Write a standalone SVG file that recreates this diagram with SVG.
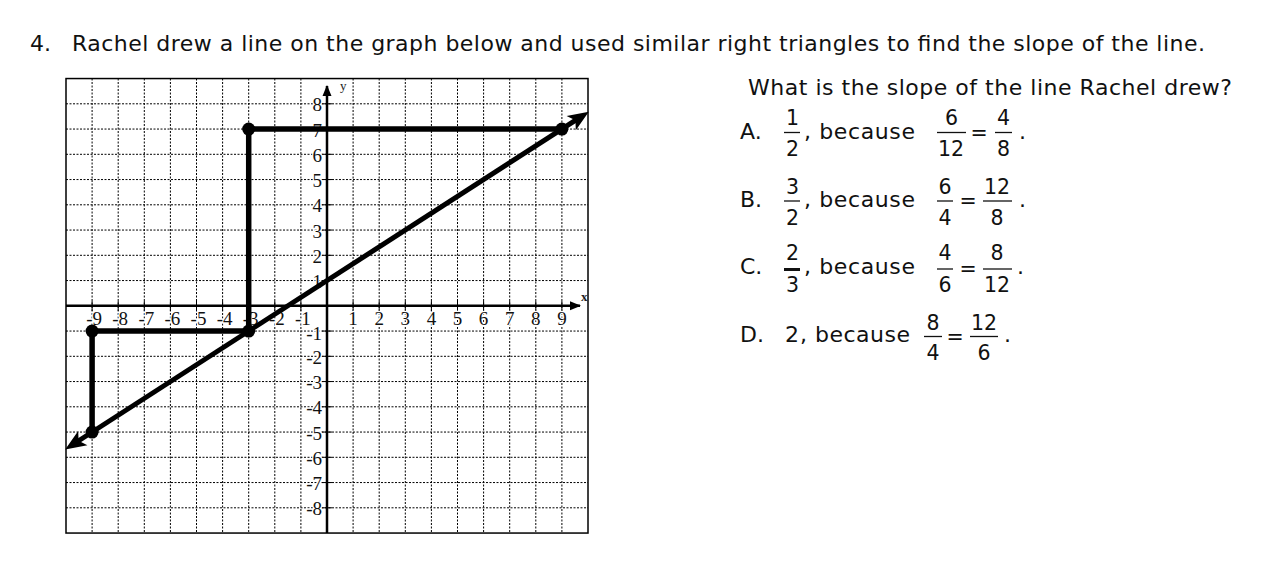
<svg xmlns="http://www.w3.org/2000/svg" width="1261" height="572" viewBox="0 0 1261 572">
<style>
.t{font-family:"DejaVu Sans","Liberation Sans",sans-serif;font-size:22px;fill:#111}
.f{font-family:"DejaVu Sans","Liberation Sans",sans-serif;font-size:20.5px;fill:#111;text-anchor:middle}
.bar{stroke:#111;stroke-width:1.3}
.g{stroke:#000;stroke-width:1;stroke-dasharray:2 1.5;fill:none}
.ax{stroke:#000;stroke-width:2.5;fill:none}
.lab{font-family:"Liberation Serif","Times New Roman",serif;font-size:19px;fill:#111;stroke:#fff;stroke-width:2.5;paint-order:stroke}
.yl{text-anchor:end}
.xl{text-anchor:middle}
.thick{stroke:#000;stroke-width:5.5;fill:none;stroke-linejoin:miter}
.dot{fill:#000}
</style>
<defs>
<marker id="barb" markerUnits="userSpaceOnUse" viewBox="-12 -9 24 18" markerWidth="24" markerHeight="18" refX="0" refY="0" orient="auto-start-reverse">
<path d="M11,0 L-10,-8.5 L-5,0 L-10,8.5 Z" fill="#000"/>
</marker>
<marker id="axarr" markerUnits="userSpaceOnUse" viewBox="-12 -6 14 12" markerWidth="14" markerHeight="12" refX="0" refY="0" orient="auto">
<path d="M1,0 L-10,-4.5 L-10,4.5 Z" fill="#000"/>
</marker>
</defs>

<g id="title">
<text class="t" x="30" y="51">4.</text>
<text class="t" x="72" y="51" textLength="1133" lengthAdjust="spacing">Rachel drew a line on the graph below and used similar right triangles to find the slope of the line.</text>
</g>

<g id="graph">
<rect x="66" y="78.55" width="522" height="454.5" fill="#fff" stroke="#000" stroke-width="1.5"/>
<g id="grid" class="g">
<path d="M92.1,78.5V533M118.2,78.5V533M144.3,78.5V533M170.4,78.5V533M196.5,78.5V533M222.6,78.5V533M248.7,78.5V533M274.8,78.5V533M300.9,78.5V533M353.1,78.5V533M379.2,78.5V533M405.3,78.5V533M431.4,78.5V533M457.5,78.5V533M483.6,78.5V533M509.7,78.5V533M535.8,78.5V533M561.9,78.5V533"/>
<path d="M66,103.8H588M66,129.05H588M66,154.3H588M66,179.55H588M66,204.8H588M66,230.05H588M66,255.3H588M66,280.55H588M66,331.05H588M66,356.3H588M66,381.55H588M66,406.8H588M66,432.05H588M66,457.3H588M66,482.55H588M66,507.8H588"/>
</g>
<g id="ticks" stroke="#000" stroke-width="1">
<path d="M322,103.8H332M322,129.05H332M322,154.3H332M322,179.55H332M322,204.8H332M322,230.05H332M322,255.3H332M322,280.55H332M322,331.05H332M322,356.3H332M322,381.55H332M322,406.8H332M322,432.05H332M322,457.3H332M322,482.55H332M322,507.8H332"/>
<path d="M92.1,301V311M118.2,301V311M144.3,301V311M170.4,301V311M196.5,301V311M222.6,301V311M248.7,301V311M274.8,301V311M300.9,301V311M353.1,301V311M379.2,301V311M405.3,301V311M431.4,301V311M457.5,301V311M483.6,301V311M509.7,301V311M535.8,301V311M561.9,301V311"/>
</g>
<g id="axes">
<line class="ax" x1="66" y1="305.8" x2="580" y2="305.8" marker-end="url(#axarr)"/>
<line class="ax" x1="327" y1="533" x2="327" y2="86" marker-end="url(#axarr)"/>
<text x="340" y="90" font-family="Liberation Serif,serif" font-size="13" fill="#222">y</text>
<text x="581" y="301" font-family="Liberation Serif,serif" font-size="13" font-weight="bold" fill="#222">x</text>
</g>
<g id="ylabels" class="lab yl">
<text x="322" y="111.3">8</text>
<text x="322" y="136.55">7</text>
<text x="322" y="161.8">6</text>
<text x="322" y="187.05">5</text>
<text x="322" y="212.3">4</text>
<text x="322" y="237.55">3</text>
<text x="322" y="262.8">2</text>
<text x="322" y="288.05">1</text>
<text x="322" y="339.5">-1</text>
<text x="322" y="363.8">-2</text>
<text x="322" y="389.05">-3</text>
<text x="322" y="414.3">-4</text>
<text x="322" y="439.55">-5</text>
<text x="322" y="464.8">-6</text>
<text x="322" y="490.05">-7</text>
<text x="322" y="515.3">-8</text>
</g>
<g id="xlabels" class="lab xl">
<text x="94.1" y="325">-9</text>
<text x="120.2" y="325">-8</text>
<text x="146.3" y="325">-7</text>
<text x="172.4" y="325">-6</text>
<text x="198.5" y="325">-5</text>
<text x="224.6" y="325">-4</text>
<text x="250.7" y="325">-3</text>
<text x="276.8" y="325">-2</text>
<text x="302.9" y="325">-1</text>
<text x="353.1" y="325">1</text>
<text x="379.2" y="325">2</text>
<text x="405.3" y="325">3</text>
<text x="431.4" y="325">4</text>
<text x="457.5" y="325">5</text>
<text x="483.6" y="325">6</text>
<text x="509.7" y="325">7</text>
<text x="535.8" y="325">8</text>
<text x="561.9" y="325">9</text>
</g>
</g>

<g id="connectors">
<path id="big-triangle" class="thick" d="M248.7,331.05V129.05H561.9"/>
<path id="small-triangle" class="thick" d="M92.1,432.05V331.05H248.7"/>
<line id="line" x1="74.4" y1="443.5" x2="579.6" y2="117.6" stroke="#000" stroke-width="5" marker-start="url(#barb)" marker-end="url(#barb)"/>
</g>

<g id="points">
<circle class="dot" cx="248.7" cy="129.05" r="6.5"/>
<circle class="dot" cx="561.9" cy="129.05" r="6.5"/>
<circle class="dot" cx="248.7" cy="331.05" r="6.5"/>
<circle class="dot" cx="92.1" cy="331.05" r="6.5"/>
<circle class="dot" cx="92.1" cy="432.05" r="6.5"/>
</g>

<g id="question">
<text class="t" x="748" y="95" textLength="484" lengthAdjust="spacing">What is the slope of the line Rachel drew?</text>
</g>

<g id="optA">
<text class="t" x="740" y="138.5">A.</text>
<text class="f" x="792.5" y="125">1</text>
<line class="bar" x1="784" y1="132.5" x2="800" y2="132.5"/>
<text class="f" x="792.5" y="156">2</text>
<text class="t" x="804" y="138.5" textLength="111" lengthAdjust="spacing">, because</text>
<text class="f" x="951.5" y="125">6</text>
<line class="bar" x1="937" y1="132.5" x2="966" y2="132.5"/>
<text class="f" x="951" y="156">12</text>
<text class="f" x="979" y="139.5">=</text>
<text class="f" x="1003.5" y="125">4</text>
<line class="bar" x1="995" y1="132.5" x2="1012" y2="132.5"/>
<text class="f" x="1003.5" y="156">8</text>
<text class="t" x="1019" y="138.5">.</text>
</g>

<g id="optB">
<text class="t" x="740" y="207">B.</text>
<text class="f" x="792.5" y="193.5">3</text>
<line class="bar" x1="784" y1="201" x2="800" y2="201"/>
<text class="f" x="792.5" y="224.5">2</text>
<text class="t" x="804" y="207" textLength="111" lengthAdjust="spacing">, because</text>
<text class="f" x="945" y="193.5">6</text>
<line class="bar" x1="937" y1="201" x2="953" y2="201"/>
<text class="f" x="945" y="224.5">4</text>
<text class="f" x="968" y="208">=</text>
<text class="f" x="997" y="193.5">12</text>
<line class="bar" x1="983" y1="201" x2="1012" y2="201"/>
<text class="f" x="997" y="224.5">8</text>
<text class="t" x="1019" y="207">.</text>
</g>

<g id="optC">
<text class="t" x="740" y="273.5">C.</text>
<text class="f" x="792.5" y="260">2</text>
<line x1="784" y1="269.5" x2="800" y2="269.5" stroke="#111" stroke-width="3"/>
<text class="f" x="792.5" y="291.5">3</text>
<text class="t" x="804" y="273.5" textLength="111" lengthAdjust="spacing">, because</text>
<text class="f" x="945" y="260">4</text>
<line class="bar" x1="937" y1="269" x2="953" y2="269"/>
<text class="f" x="945" y="291.5">6</text>
<text class="f" x="968" y="276">=</text>
<text class="f" x="997" y="260">8</text>
<line class="bar" x1="983" y1="269" x2="1012" y2="269"/>
<text class="f" x="997" y="291.5">12</text>
<text class="t" x="1017" y="273.5">.</text>
</g>

<g id="optD">
<text class="t" x="740" y="341.5">D.</text>
<text class="t" x="785" y="341.5">2</text>
<text class="t" x="800" y="341.5" textLength="110" lengthAdjust="spacing">, because</text>
<text class="f" x="933" y="330">8</text>
<line class="bar" x1="924" y1="336.5" x2="942" y2="336.5"/>
<text class="f" x="933" y="360">4</text>
<text class="f" x="955" y="343.5">=</text>
<text class="f" x="984" y="330">12</text>
<line class="bar" x1="970" y1="336.5" x2="998" y2="336.5"/>
<text class="f" x="984" y="360">6</text>
<text class="t" x="1004" y="341.5">.</text>
</g>
</svg>
